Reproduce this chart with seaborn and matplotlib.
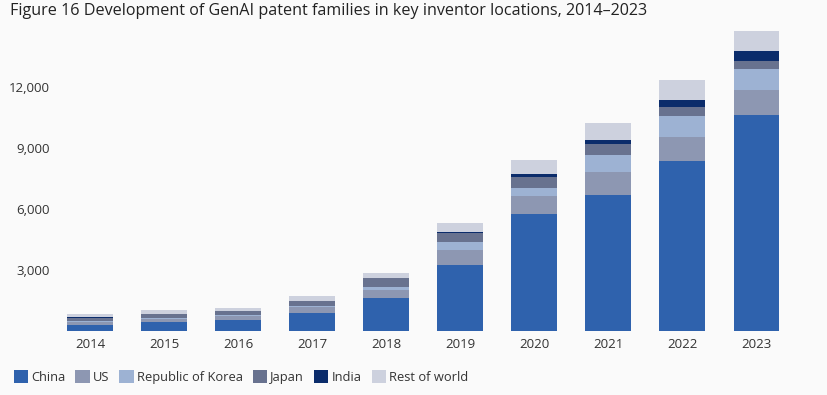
import numpy as np
import pandas as pd
import matplotlib
matplotlib.use("Agg")
import matplotlib.pyplot as plt
import seaborn as sns
from matplotlib.patches import Patch

years = ["2014", "2015", "2016", "2017", "2018", "2019", "2020", "2021", "2022", "2023"]
china = [300, 430, 530, 880, 1640, 3240, 5750, 6680, 8350, 10600]
us = [130, 150, 200, 300, 380, 730, 880, 1130, 1180, 1230]
korea = [80, 80, 50, 50, 160, 400, 390, 830, 1030, 1030]
japan = [150, 180, 210, 250, 410, 440, 540, 540, 440, 390]
india = [10, 10, 10, 15, 30, 50, 150, 200, 340, 490]
rest = [180, 170, 120, 240, 250, 440, 690, 830, 980, 990]

series_names = ["China", "US", "Republic of Korea", "Japan", "India", "Rest of world"]
series_vals = [china, us, korea, japan, india, rest]
colors = ["#2f62ad", "#8d97b2", "#9db2d3", "#68728f", "#0b2c6b", "#cdd1de"]
yticks = [3000, 6000, 9000, 12000]

sns.set_theme(style="white")
plt.rcParams["font.family"] = ["Open Sans", "DejaVu Sans"]

bg = "#fafafa"
fig = plt.figure(figsize=(8.27, 3.95), dpi=100, facecolor=bg)
ax = fig.add_axes([55 / 827, 0.1618, (812 - 55) / 827, 0.7737])
ax.set_facecolor(bg)

cum = np.cumsum(np.array(series_vals, dtype=float), axis=0)
# draw cumulative totals from top series downward so each layer shows its own band
for i in range(len(series_names) - 1, -1, -1):
    df = pd.DataFrame({"year": years, "value": cum[i]})
    sns.barplot(data=df, x="year", y="value", color=colors[i], width=0.62,
                saturation=1, ax=ax, linewidth=0, edgecolor="none")

ax.set_xlim(-0.473, 9.75)
ax.set_ylim(0, 15000)
ax.set_yticks(yticks)
ax.set_yticklabels([f"{v:,}" for v in yticks])
ax.set_xlabel("")
ax.set_ylabel("")
ax.tick_params(axis="both", length=0, labelsize=9.5, labelcolor="#333333")
ax.tick_params(axis="y", pad=4)
ax.tick_params(axis="x", pad=5)
for s in ax.spines.values():
    s.set_visible(False)
ax.grid(False)

fig.text(10 / 827, 1 - 11 / 395, "Figure 16 Development of GenAI patent families in key inventor locations, 2014\u20132023",
         ha="left", va="center", fontsize=11.6, color="#222222")

handles = [Patch(facecolor=c, edgecolor="none", label=n) for n, c in zip(series_names, colors)]
fig.legend(handles=handles, loc="center left", bbox_to_anchor=(2 / 827, 1 - 377 / 395),
           ncol=6, frameon=False, fontsize=9.3, handlelength=1.1, handleheight=1.1,
           handletextpad=0.25, columnspacing=0.78, labelcolor="#333333")

fig.savefig("out.png", dpi=100, facecolor=bg)
